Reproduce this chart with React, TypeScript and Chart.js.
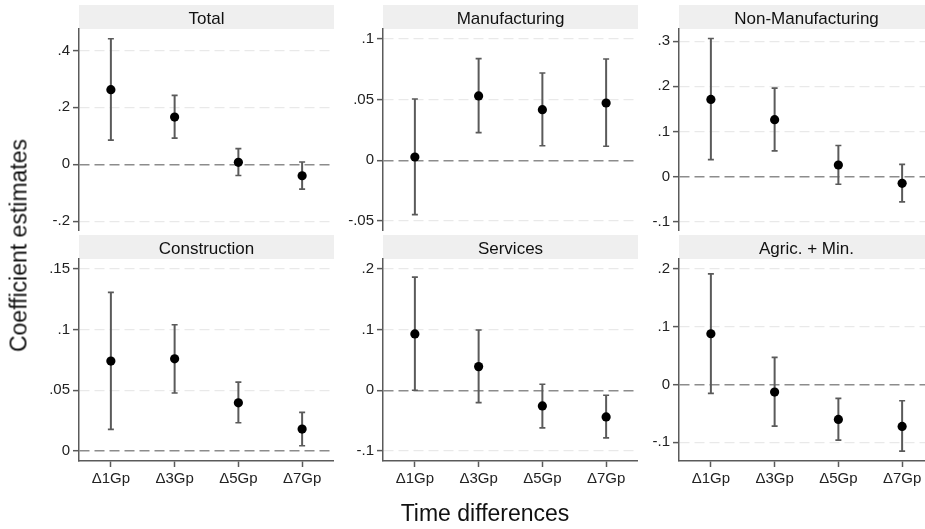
import React, { useEffect, useRef } from 'react';
import { Chart, registerables } from 'chart.js';

Chart.register(...registerables);

// ---------------- data ----------------
const CATEGORIES = ['Δ1Gp', 'Δ3Gp', 'Δ5Gp', 'Δ7Gp'];
const PANEL_TITLES = ['Total', 'Manufacturing', 'Non-Manufacturing', 'Construction', 'Services', 'Agric. + Min.'];
const Y_AXIS_TITLE = 'Coefficient estimates';
const X_AXIS_TITLE = 'Time differences';

const TOTAL_EST = [0.262, 0.166, 0.007, -0.040];
const TOTAL_LO = [0.085, 0.092, -0.039, -0.087];
const TOTAL_HI = [0.441, 0.242, 0.055, 0.008];
const TOTAL_TICKS = [-0.2, 0, 0.2, 0.4];
const TOTAL_RANGE = [-0.234, 0.475];

const MANUF_EST = [0.0027, 0.0529, 0.0416, 0.0471];
const MANUF_LO = [-0.0447, 0.0227, 0.012, 0.0115];
const MANUF_HI = [0.0504, 0.0836, 0.0718, 0.0833];
const MANUF_TICKS = [-0.05, 0, 0.05, 0.1];
const MANUF_RANGE = [-0.0582, 0.108];

const NONMAN_EST = [0.171, 0.126, 0.0257, -0.0149];
const NONMAN_LO = [0.0375, 0.057, -0.017, -0.056];
const NONMAN_HI = [0.306, 0.196, 0.069, 0.027];
const NONMAN_TICKS = [-0.1, 0, 0.1, 0.2, 0.3];
const NONMAN_RANGE = [-0.1206, 0.327];

const CONSTR_EST = [0.074, 0.0759, 0.0397, 0.0181];
const CONSTR_LO = [0.0178, 0.0477, 0.0233, 0.0044];
const CONSTR_HI = [0.1305, 0.1039, 0.0567, 0.0318];
const CONSTR_TICKS = [0, 0.05, 0.1, 0.15];
const CONSTR_RANGE = [-0.0082, 0.158];

const SERV_EST = [0.0926, 0.0388, -0.0258, -0.0439];
const SERV_LO = [0.0, -0.0204, -0.062, -0.0784];
const SERV_HI = [0.186, 0.099, 0.0099, -0.0082];
const SERV_TICKS = [-0.1, 0, 0.1, 0.2];
const SERV_RANGE = [-0.1165, 0.2159];

const AGRIC_EST = [0.0875, -0.0133, -0.0606, -0.0727];
const AGRIC_LO = [-0.0156, -0.0721, -0.0964, -0.1154];
const AGRIC_HI = [0.191, 0.0467, -0.0242, -0.0284];
const AGRIC_TICKS = [-0.1, 0, 0.1, 0.2];
const AGRIC_RANGE = [-0.1324, 0.2167];

const PANELS = [
  { est: TOTAL_EST, lo: TOTAL_LO, hi: TOTAL_HI, ticks: TOTAL_TICKS, range: TOTAL_RANGE },
  { est: MANUF_EST, lo: MANUF_LO, hi: MANUF_HI, ticks: MANUF_TICKS, range: MANUF_RANGE },
  { est: NONMAN_EST, lo: NONMAN_LO, hi: NONMAN_HI, ticks: NONMAN_TICKS, range: NONMAN_RANGE },
  { est: CONSTR_EST, lo: CONSTR_LO, hi: CONSTR_HI, ticks: CONSTR_TICKS, range: CONSTR_RANGE },
  { est: SERV_EST, lo: SERV_LO, hi: SERV_HI, ticks: SERV_TICKS, range: SERV_RANGE },
  { est: AGRIC_EST, lo: AGRIC_LO, hi: AGRIC_HI, ticks: AGRIC_TICKS, range: AGRIC_RANGE },
];

// ---------------- layout ----------------
const FONT = '"Liberation Sans", Arial, Helvetica, sans-serif';
const PAGE_W = 925;
const COL_PLOT_LEFT = [79, 383, 679];
const PLOT_W = 255; // full panel plot width (right column is cut by the page edge)
const ROW_TOP = [5, 235];
const STRIP_H = 24;
const PLOT_H = 202;
const Y_W = 50;
const X_H = 34;

function fmtTick(v: number): string {
  if (Math.abs(v) < 1e-12) return '0';
  const s = String(Math.abs(v)).replace(/^0/, '');
  return (v < 0 ? '-' : '') + s;
}

type PanelProps = {
  title: string;
  est: number[];
  lo: number[];
  hi: number[];
  ticks: number[];
  range: number[];
  bottom: boolean;
  left: number;
  top: number;
  plotW: number;
};

function zeroPadding(s: any) {
  s.paddingTop = 0;
  s.paddingBottom = 0;
  s.paddingLeft = 0;
  s.paddingRight = 0;
}

function Panel(props: PanelProps) {
  const ref = useRef<HTMLCanvasElement | null>(null);
  const width = Y_W + props.plotW;
  const height = STRIP_H + PLOT_H + (props.bottom ? X_H : 0);

  useEffect(() => {
    if (!ref.current) return;
    const { title, est, lo, hi, ticks, range, bottom, plotW } = props;
    // visible part of the category range (right column is clipped by the page edge)
    const xMax = 0.5 + (4 * plotW) / PLOT_W;

    const stripPlugin = {
      id: 'stripTitle',
      beforeDraw(chart: any) {
        const { ctx, chartArea } = chart;
        ctx.save();
        ctx.fillStyle = '#efefef';
        ctx.fillRect(chartArea.left, 0, chartArea.right - chartArea.left, STRIP_H);
        ctx.fillStyle = '#111111';
        ctx.font = `17px ${FONT}`;
        ctx.textAlign = 'center';
        ctx.textBaseline = 'alphabetic';
        ctx.fillText(title, chartArea.left + PLOT_W / 2, 18.5);
        ctx.restore();
      },
    };

    const errorBarPlugin = {
      id: 'errorBars',
      beforeDatasetsDraw(chart: any) {
        const { ctx } = chart;
        const xs = chart.scales.x;
        const ys = chart.scales.y;
        ctx.save();
        ctx.strokeStyle = '#5a5a5a';
        lo.forEach((l, i) => {
          const px = xs.getPixelForValue(i + 1);
          const y1 = ys.getPixelForValue(l);
          const y2 = ys.getPixelForValue(hi[i]);
          ctx.lineWidth = 2;
          ctx.beginPath();
          ctx.moveTo(px, y1);
          ctx.lineTo(px, y2);
          ctx.stroke();
          ctx.lineWidth = 1.6;
          ctx.beginPath();
          ctx.moveTo(px - 3, y1);
          ctx.lineTo(px + 3, y1);
          ctx.moveTo(px - 3, y2);
          ctx.lineTo(px + 3, y2);
          ctx.stroke();
        });
        ctx.restore();
      },
    };

    const chart = new Chart(ref.current, {
      type: 'scatter',
      data: {
        datasets: [
          {
            data: est.map((y, i) => ({ x: i + 1, y })),
            pointRadius: 4.6,
            pointBackgroundColor: '#000000',
            pointBorderColor: '#000000',
            pointBorderWidth: 0,
            showLine: false,
          },
        ],
      },
      options: {
        animation: false,
        responsive: false,
        events: [],
        layout: { padding: { top: STRIP_H, left: 0, right: 0, bottom: 0 }, autoPadding: false },
        plugins: { legend: { display: false }, tooltip: { enabled: false } },
        scales: {
          x: {
            type: 'linear',
            min: 0.5,
            max: xMax,
            display: bottom,
            afterBuildTicks: (s: any) => {
              s.ticks = CATEGORIES.map((_, i) => ({ value: i + 1 }));
            },
            afterFit: (s: any) => {
              s.height = bottom ? X_H : 0;
              zeroPadding(s);
            },
            ticks: {
              callback: (v: any) => CATEGORIES[Math.round(Number(v)) - 1] ?? '',
              font: { family: FONT, size: 15 },
              color: '#222222',
              padding: 3,
              maxRotation: 0,
              autoSkip: false,
            },
            grid: {
              drawOnChartArea: false,
              drawTicks: true,
              tickLength: 6,
              tickColor: '#5a5a5a',
              tickWidth: 1.5,
            },
            border: { display: true, color: '#5a5a5a', width: 1.5 },
          },
          y: {
            type: 'linear',
            min: range[0],
            max: range[1],
            afterBuildTicks: (s: any) => {
              s.ticks = ticks.map((v) => ({ value: v }));
            },
            afterFit: (s: any) => {
              s.width = Y_W;
              zeroPadding(s);
            },
            ticks: {
              callback: (v: any) => fmtTick(Number(v)),
              font: { family: FONT, size: 15 },
              color: '#222222',
              padding: 3,
              autoSkip: false,
            },
            grid: {
              color: (c: any) => (c.tick && Math.abs(c.tick.value) < 1e-12 ? '#8c8c8c' : '#e9e9e9'),
              lineWidth: (c: any) => (c.tick && Math.abs(c.tick.value) < 1e-12 ? 1.4 : 1.2),
              drawTicks: true,
              tickLength: 6,
              tickColor: '#5a5a5a',
              tickWidth: 1.5,
            },
            border: { display: true, color: '#5a5a5a', width: 1.5, dash: [10, 5] },
          },
        },
      } as any,
      plugins: [stripPlugin, errorBarPlugin],
    });
    return () => chart.destroy();
  }, []);

  return (
    <canvas
      ref={ref}
      width={width}
      height={height}
      style={{ position: 'absolute', left: props.left, top: props.top, width, height }}
    />
  );
}

export default function App() {
  return (
    <div
      style={{
        position: 'absolute',
        left: 0,
        top: 0,
        width: PAGE_W,
        height: 529,
        overflow: 'hidden',
        background: '#ffffff',
        fontFamily: FONT,
      }}
    >
      {PANELS.map((p, idx) => {
        const col = idx % 3;
        const row = Math.floor(idx / 3);
        const plotW = Math.min(PLOT_W, PAGE_W - COL_PLOT_LEFT[col]);
        return (
          <Panel
            key={idx}
            title={PANEL_TITLES[idx]}
            est={p.est}
            lo={p.lo}
            hi={p.hi}
            ticks={p.ticks}
            range={p.range}
            bottom={row === 1}
            left={COL_PLOT_LEFT[col] - Y_W}
            top={ROW_TOP[row]}
            plotW={plotW}
          />
        );
      })}
      <div
        style={{
          position: 'absolute',
          left: 19 - 150,
          top: 245 - 11.5,
          width: 300,
          height: 23,
          lineHeight: '23px',
          fontSize: 23,
          textAlign: 'center',
          color: '#111',
          transform: 'rotate(-90deg)',
          whiteSpace: 'nowrap',
        }}
      >
        {Y_AXIS_TITLE}
      </div>
      <div
        style={{
          position: 'absolute',
          left: 485 - 150,
          top: 501.5,
          width: 300,
          height: 23,
          lineHeight: '23px',
          fontSize: 23,
          textAlign: 'center',
          color: '#111',
          whiteSpace: 'nowrap',
        }}
      >
        {X_AXIS_TITLE}
      </div>
    </div>
  );
}
